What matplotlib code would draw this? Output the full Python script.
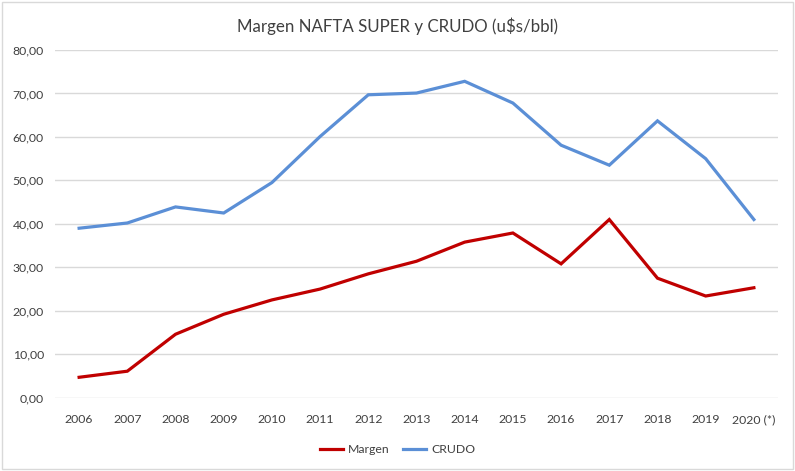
import matplotlib.pyplot as plt
import numpy as np

years = ["2006", "2007", "2008", "2009", "2010", "2011", "2012", "2013",
         "2014", "2015", "2016", "2017", "2018", "2019", "2020 (*)"]
margen = [4.7, 6.1, 14.6, 19.2, 22.5, 25.0, 28.5, 31.4,
          35.8, 37.9, 30.8, 41.0, 27.5, 23.4, 25.3]
crudo = [39.0, 40.2, 43.9, 42.5, 49.5, 60.1, 69.7, 70.1,
         72.8, 67.8, 58.1, 53.5, 63.7, 55.0, 41.0]
yticks = [0, 10, 20, 30, 40, 50, 60, 70, 80]

plt.rcParams["font.family"] = ["Lato", "DejaVu Sans"]

fig = plt.figure(figsize=(7.95, 4.71), dpi=100)
ax = fig.add_axes([0.0692, 0.1556, 0.9094, 0.7382])

x = np.arange(len(years))
ax.plot(x, margen, color="#C00000", lw=2.3, label="Margen", solid_joinstyle="miter")
ax.plot(x, crudo, color="#5B8FD6", lw=2.3, label="CRUDO", solid_joinstyle="miter")

ax.set_xlim(-0.5, len(years) - 0.5)
ax.set_ylim(0, 80)
ax.set_yticks(yticks)
ax.set_yticklabels(["{:.2f}".format(v).replace(".", ",") for v in yticks],
                   fontsize=8.8, color="#404040")
ax.set_xticks(x)
ax.set_xticklabels(years, fontsize=8.8, color="#404040")
ax.tick_params(length=0, pad=8)
ax.tick_params(axis="x", pad=12)
ax.grid(axis="y", color="#D9D9D9", lw=1)
ax.set_axisbelow(True)
for s in ax.spines.values():
    s.set_visible(False)

fig.text(0.5, 0.945, "Margen NAFTA SUPER y CRUDO (u$s/bbl)", ha="center",
         va="center", fontsize=12.2, color="#404040")
fig.legend(loc="center", bbox_to_anchor=(0.5, 0.046), ncol=2, frameon=False,
           fontsize=8.8, handlelength=1.9, handletextpad=0.4,
           columnspacing=1.1, labelcolor="#404040")

border = plt.Rectangle((0.003, 0.004), 0.994, 0.992, transform=fig.transFigure,
                       fill=False, edgecolor="#D9D9D9", lw=1)
fig.patches.append(border)

fig.savefig("out.png", dpi=100)
